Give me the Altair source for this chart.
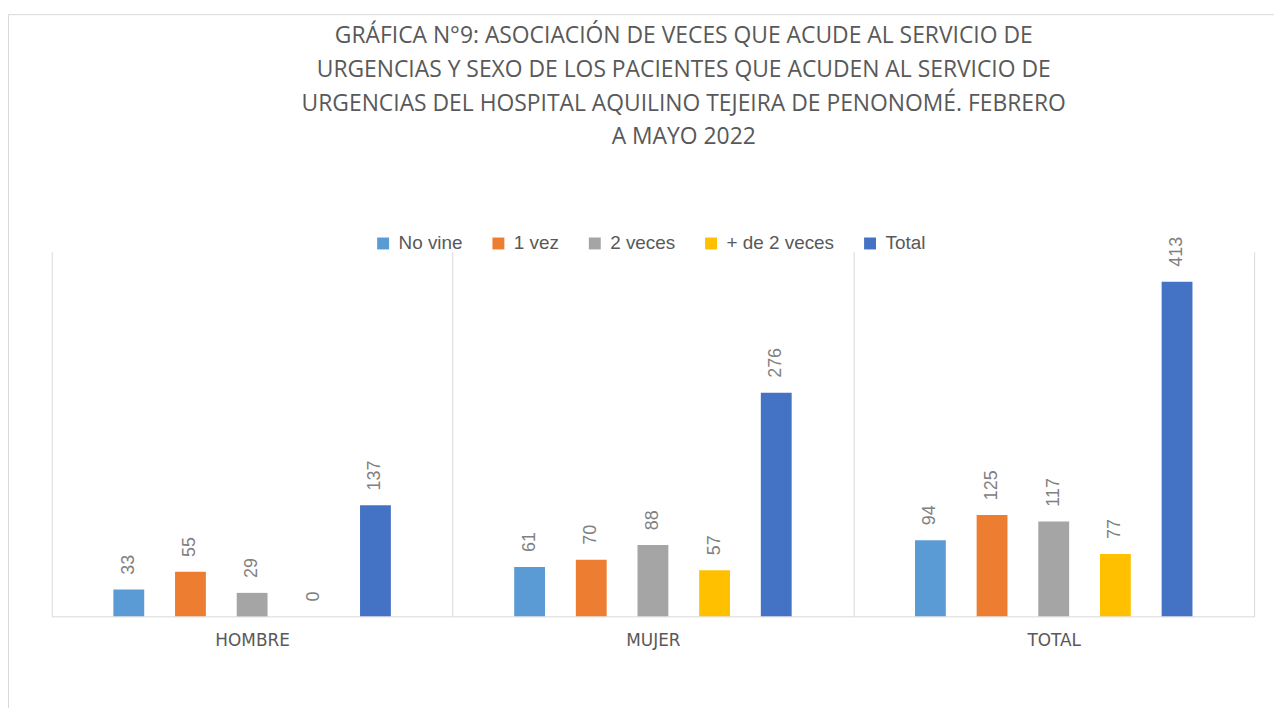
import altair as alt
import pandas as pd

categories = ["HOMBRE", "MUJER", "TOTAL"]
series = ["No vine", "1 vez", "2 veces", "+ de 2 veces", "Total"]
no_vine = [33, 61, 94]
una_vez = [55, 70, 125]
dos_veces = [29, 88, 117]
mas_de_dos = [0, 57, 77]
total = [137, 276, 413]
colors = ["#5B9BD5", "#ED7D31", "#A5A5A5", "#FFC000", "#4472C4"]

title_lines = [
    "GRÁFICA N°9: ASOCIACIÓN DE VECES QUE ACUDE AL SERVICIO DE",
    "URGENCIAS Y SEXO DE LOS PACIENTES QUE ACUDEN AL SERVICIO DE",
    "URGENCIAS DEL HOSPITAL AQUILINO TEJEIRA DE PENONOMÉ. FEBRERO",
    "A MAYO 2022",
]

rows = []
for s, vals in zip(series, [no_vine, una_vez, dos_veces, mas_de_dos, total]):
    for c, v in zip(categories, vals):
        rows.append({"cat": c, "serie": s, "val": v})
df = pd.DataFrame(rows)

W, H = 1210, 367

x = alt.X(
    "cat:N",
    sort=categories,
    scale=alt.Scale(paddingInner=0, paddingOuter=0),
    axis=alt.Axis(
        title=None, labelAngle=0, tickBand="extent", grid=True,
        gridColor="#d9d9d9", gridWidth=1, ticks=False,
        domainColor="#d9d9d9", labelFont="DejaVu Sans", labelFontSize=17,
        labelColor="#595959", labelPadding=16,
    ),
)
xo = alt.XOffset("serie:N", sort=series,
                 scale=alt.Scale(paddingInner=0.5, paddingOuter=1))
y = alt.Y("val:Q", scale=alt.Scale(domain=[0, 450]), axis=None)

bars = alt.Chart(df).mark_bar().encode(
    x=x, xOffset=xo, y=y,
    color=alt.Color(
        "serie:N", sort=series,
        scale=alt.Scale(domain=series, range=colors),
        legend=alt.Legend(
            orient="none", legendX=324, legendY=-18, direction="horizontal",
            title=None, symbolType="square", symbolSize=144,
            symbolStrokeWidth=0, labelFont="Liberation Sans",
            labelFontSize=19, labelColor="#595959", columnPadding=26,
            labelOffset=6,
        ),
    ),
)

labels = alt.Chart(df).mark_text(
    angle=270, align="left", baseline="middle", dx=15,
    font="Liberation Sans", fontSize=18, color="#808080",
).encode(x=x, xOffset=xo, y=y, text=alt.Text("val:Q"))

frame = alt.Chart(pd.DataFrame({"a": [0]})).mark_rect(
    fillOpacity=0, stroke="#d9d9d9", strokeWidth=1
).encode(
    x=alt.value(-43.5), x2=alt.value(1260),
    y=alt.value(-238.5), y2=alt.value(500),
)

chart = alt.layer(frame, bars, labels).properties(
    width=W, height=H,
    padding={"left": 44, "top": 243, "right": 20, "bottom": 90},
    autosize=alt.AutoSizeParams(type="none"),
    title=alt.TitleParams(
        text=title_lines, font="Open Sans", fontSize=23, fontWeight="normal",
        color="#595959", lineHeight=34, anchor="middle", offset=-136,
        dx=31, frame="group",
    ),
).configure_view(stroke=None)

chart.save("out.html", embed_options={"renderer": "svg", "actions": False})
